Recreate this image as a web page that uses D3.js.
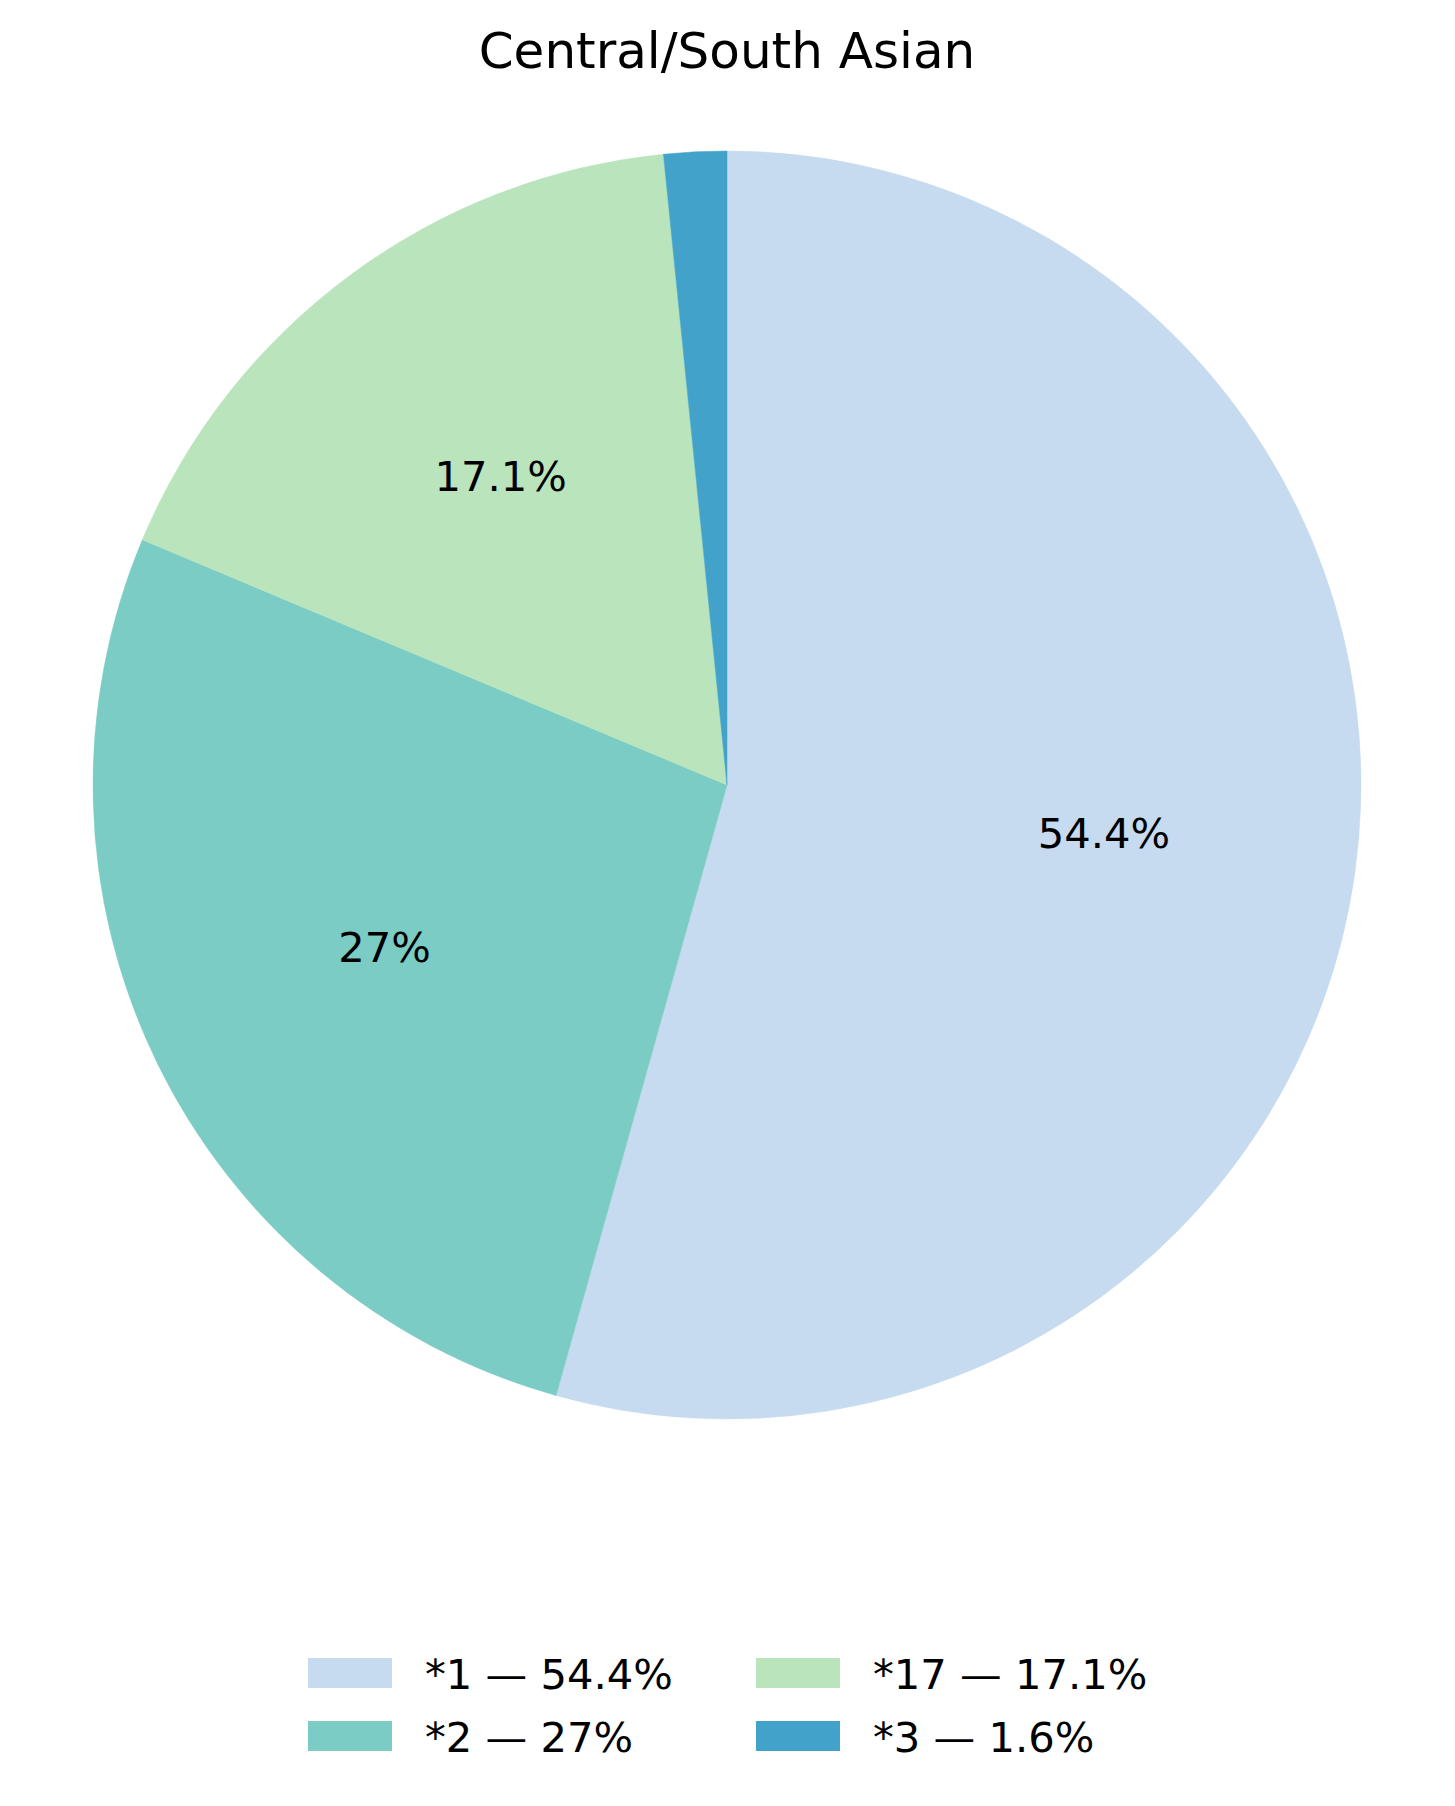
<!DOCTYPE html>
<html>
<head>
<meta charset="utf-8">
<script src="https://cdn.jsdelivr.net/npm/d3@7"></script>
<style>
  html, body { margin: 0; padding: 0; background: #ffffff; }
  svg { display: block; font-family: "DejaVu Sans", sans-serif; }
</style>
</head>
<body>
<script>
const title = "Central/South Asian";
const categories = ["*1", "*2", "*17", "*3"];
const values = [54.4, 27, 17.1, 1.6];
const pctLabels = ["54.4%", "27%", "17.1%", "1.6%"];
const colors = ["#c6dbef", "#7bccc4", "#bae4bc", "#43a2ca"];

const W = 1455, H = 1806;
const cx = 727, cy = 785, R = 634;
const fs = 41.67;

const svg = d3.select("body").append("svg")
  .attr("width", W).attr("height", H)
  .attr("viewBox", `0 0 ${W} ${H}`);

svg.append("rect").attr("width", W).attr("height", H).attr("fill", "#fff");

svg.append("text")
  .attr("x", cx).attr("y", 68)
  .attr("text-anchor", "middle")
  .attr("font-size", 50)
  .attr("fill", "#000")
  .text(title);

const data = categories.map((c, i) => ({ cat: c, value: values[i], label: pctLabels[i], color: colors[i] }));

const pie = d3.pie().sort(null).value(d => d.value);
const arcs = pie(data);
const arc = d3.arc().innerRadius(0).outerRadius(R);
const labelArc = d3.arc().innerRadius(R * 0.6).outerRadius(R * 0.6);

const g = svg.append("g").attr("transform", `translate(${cx},${cy})`);

g.selectAll("path.wedge").data(arcs).enter().append("path")
  .attr("class", "wedge")
  .attr("d", arc)
  .attr("fill", d => d.data.color)
  .attr("stroke", d => d.data.color)
  .attr("stroke-width", 0.5);

g.selectAll("text.pct").data(arcs.filter(d => d.data.value >= 5)).enter().append("text")
  .attr("class", "pct")
  .attr("x", d => labelArc.centroid(d)[0])
  .attr("y", d => labelArc.centroid(d)[1] + fs * 0.28)
  .attr("text-anchor", "middle")
  .attr("font-size", fs)
  .attr("fill", "#000")
  .text(d => d.data.label);

// Legend (column-major, 2 columns)
const colX = [308, 756];
const rowY = [1658, 1721];
const patchW = 84, patchH = 30;
const legend = svg.append("g");
data.forEach((d, k) => {
  const col = Math.floor(k / 2), row = k % 2;
  legend.append("rect")
    .attr("x", colX[col]).attr("y", rowY[row])
    .attr("width", patchW).attr("height", patchH)
    .attr("fill", d.color);
  legend.append("text")
    .attr("x", colX[col] + patchW + 33)
    .attr("y", rowY[row] + 31)
    .attr("font-size", fs)
    .attr("fill", "#000")
    .text(`${d.cat} \u2014 ${d.label}`);
});
</script>
</body>
</html>
